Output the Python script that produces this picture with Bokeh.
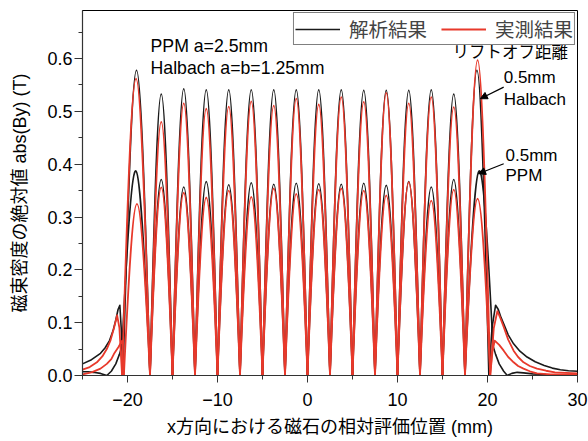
from bokeh.plotting import figure
from bokeh.models import (Range1d, Legend, LegendItem, Label, Arrow, NormalHead,
                          FixedTicker, ColumnDataSource)
from bokeh.embed import file_html
from bokeh.resources import INLINE

# ---------------- data ----------------
# zero crossings between the arches (mm)
inner_zeros = [-17.5, -15.0, -12.5, -10.0, -7.5, -5.0, -2.5, 0.0,
               2.5, 5.0, 7.5, 10.0, 12.5, 15.0, 17.5]

# peak values of the 16 arches (T)
halbach_calc = [0.578, 0.533, 0.543, 0.541, 0.541, 0.541, 0.541, 0.541,
                0.541, 0.541, 0.540, 0.540, 0.540, 0.541, 0.533, 0.578]
halbach_meas = [0.562, 0.480, 0.515, 0.505, 0.509, 0.519, 0.511, 0.524,
                0.513, 0.527, 0.518, 0.535, 0.515, 0.527, 0.508, 0.597]
ppm_calc = [0.387, 0.371, 0.357, 0.367, 0.361, 0.365, 0.362, 0.364,
            0.363, 0.362, 0.364, 0.360, 0.367, 0.357, 0.371, 0.387]
ppm_meas = [0.325, 0.356, 0.346, 0.337, 0.350, 0.338, 0.354, 0.344,
            0.352, 0.354, 0.350, 0.341, 0.366, 0.331, 0.352, 0.335]

# leakage tails outside the magnet array (x mm, y T)
hc_left_x = [-25.0, -24.0, -23.0, -22.5, -22.0, -21.6, -21.3, -21.05, -20.85, -20.7, -20.5]
hc_left_y = [0.022, 0.030, 0.042, 0.052, 0.066, 0.085, 0.105, 0.125, 0.133, 0.090, 0.0]
hc_right_x = [20.15, 20.5, 20.9, 21.2, 21.5, 21.8, 22.3, 22.9, 23.6, 24.4, 25.3,
              26.3, 27.2, 28.1, 29.0, 30.0]
hc_right_y = [0.0, 0.090, 0.133, 0.125, 0.110, 0.098, 0.077, 0.060, 0.046, 0.035,
              0.026, 0.019, 0.014, 0.011, 0.009, 0.008]

hm_left_x = [-25.0, -24.2, -23.4, -22.8, -22.3, -21.9, -21.5, -21.15, -20.9, -20.6]
hm_left_y = [0.011, 0.016, 0.025, 0.036, 0.050, 0.066, 0.090, 0.114, 0.090, 0.0]
hm_right_x = [20.3, 20.7, 21.1, 21.4, 21.8, 22.3, 22.9, 23.4, 24.0, 24.7, 25.5,
              26.5, 27.5, 30.0]
hm_right_y = [0.0, 0.090, 0.122, 0.110, 0.092, 0.068, 0.047, 0.035, 0.025, 0.018,
              0.013, 0.009, 0.006, 0.004]

pc_left_x = [-25.0, -24.4, -23.8, -23.0, -22.3, -21.8, -21.3, -20.9, -20.6]
pc_left_y = [0.007, 0.007, 0.006, 0.004, 0.0, 0.008, 0.022, 0.040, 0.057]
pc_right_x = [20.6, 20.9, 21.3, 21.8, 22.2, 22.7, 23.3, 24.0, 25.0, 26.5, 30.0]
pc_right_y = [0.057, 0.040, 0.022, 0.008, 0.0, 0.004, 0.006, 0.005, 0.003, 0.002, 0.001]

pm_left_x = [-25.0, -24.0, -23.0, -22.3, -21.8, -21.5, -21.0, -20.6, -20.4]
pm_left_y = [0.002, 0.006, 0.013, 0.022, 0.031, 0.041, 0.054, 0.066, 0.0]
pm_right_x = [20.3, 20.55, 20.8, 21.3, 21.8, 22.3, 22.9, 23.4, 24.0, 24.7, 25.5,
              27.0, 30.0]
pm_right_y = [0.0, 0.045, 0.066, 0.058, 0.047, 0.035, 0.025, 0.018, 0.013, 0.008,
              0.004, 0.002, 0.002]

x_ticks = [-20, -10, 0, 10, 20, 30]
y_ticks = [0.0, 0.1, 0.2, 0.3, 0.4, 0.5, 0.6]

BLACK = "#1a1a1a"
RED = "#e8392b"
JP = "Liberation Sans, Noto Sans CJK JP"
LAT = "Liberation Sans"

p = figure(width=588, height=441, output_backend="svg", toolbar_location=None,
           x_range=Range1d(-25, 30), y_range=Range1d(0, 0.691),
           min_border_left=82, min_border_right=11, min_border_top=10,
           min_border_bottom=66)
p.background_fill_color = "white"
p.border_fill_color = "white"
p.outline_line_color = "black"
p.outline_line_width = 1
p.xgrid.visible = False
p.ygrid.visible = False


def arches(peaks, left_x, left_y, right_x, right_y):
    xs = [left_x[-1]] + inner_zeros + [right_x[0]]
    ys = [left_y[-1]] + [0.0] * len(inner_zeros) + [right_y[0]]
    d = dict(x0=[], y0=[], x1=[], y1=[], cx0=[], cy0=[], cx1=[], cy1=[])
    for i, h in enumerate(peaks):
        x0, x1 = xs[i], xs[i + 1]
        y0, y1 = ys[i], ys[i + 1]
        L = x1 - x0
        cy = (8 * h - y0 - y1) / 6.0
        d["x0"].append(x0); d["y0"].append(y0)
        d["x1"].append(x1); d["y1"].append(y1)
        d["cx0"].append(x0 + 0.4244 * L); d["cy0"].append(cy)
        d["cx1"].append(x1 - 0.4244 * L); d["cy1"].append(cy)
    return ColumnDataSource(d)


def draw(peaks, lx, ly, rx, ry, color, width):
    src = arches(peaks, lx, ly, rx, ry)
    r = p.bezier(x0="x0", y0="y0", x1="x1", y1="y1", cx0="cx0", cy0="cy0",
                 cx1="cx1", cy1="cy1", source=src, line_color=color,
                 line_width=width)
    p.line(lx, ly, line_color=color, line_width=width, line_join="round")
    p.line(rx, ry, line_color=color, line_width=width, line_join="round")
    return r


r_calc = draw(halbach_calc, hc_left_x, hc_left_y, hc_right_x, hc_right_y, BLACK, 1.6)
draw(ppm_calc, pc_left_x, pc_left_y, pc_right_x, pc_right_y, BLACK, 1.6)
r_meas = draw(halbach_meas, hm_left_x, hm_left_y, hm_right_x, hm_right_y, RED, 1.8)
draw(ppm_meas, pm_left_x, pm_left_y, pm_right_x, pm_right_y, RED, 1.8)

# axes
p.xaxis.ticker = FixedTicker(ticks=x_ticks, minor_ticks=[-25, -15, -5, 5, 15, 25])
p.yaxis.ticker = FixedTicker(ticks=y_ticks,
                             minor_ticks=[0.05, 0.15, 0.25, 0.35, 0.45, 0.55, 0.65])
p.xaxis.major_label_overrides = {t: (str(t).replace("-", "\u2212")) for t in x_ticks}
p.yaxis.major_label_overrides = {t: "%.1f" % t for t in y_ticks}
for ax in (p.xaxis[0], p.yaxis[0]):
    ax.axis_line_color = "#333333"
    ax.axis_line_width = 1.2
    ax.major_tick_line_color = "#333333"
    ax.minor_tick_line_color = "#333333"
    ax.major_tick_in = 0
    ax.minor_tick_in = 0
    ax.major_label_text_font = LAT
    ax.major_label_text_font_size = "18px"
    ax.major_label_text_color = "black"
    ax.axis_label_text_font = JP
    ax.axis_label_text_font_size = "18px"
    ax.axis_label_text_font_style = "normal"
    ax.axis_label_text_color = "black"
p.xaxis.major_tick_out = 7
p.xaxis.minor_tick_out = 4
p.yaxis.major_tick_out = 8
p.yaxis.minor_tick_out = 4
p.xaxis.major_label_standoff = 10
p.yaxis.major_label_standoff = 2
p.xaxis.axis_label = "x方向における磁石の相対評価位置 (mm)"
p.yaxis.axis_label = "磁束密度の絶対値 abs(By) (T)"
p.xaxis.axis_label_standoff = 8
p.yaxis.axis_label_standoff = 14

# legend
legend = Legend(items=[LegendItem(label="解析結果", renderers=[r_calc]),
                       LegendItem(label="実測結果", renderers=[r_meas])],
                orientation="horizontal", location="top_right")
legend.label_text_font = JP
legend.label_text_font_size = "19.5px"
legend.glyph_width = 45
legend.glyph_height = 16
legend.label_height = 16
legend.label_standoff = 9
legend.spacing = 14
legend.padding = 1
legend.margin = 2
legend.border_line_color = "black"
legend.border_line_width = 1
legend.background_fill_alpha = 1
p.add_layout(legend)

# annotations
def lab(x, y, t, font=LAT, size="17.7px"):
    p.add_layout(Label(x=x, y=y, text=t, text_font=font, text_font_size=size,
                       text_baseline="middle", text_color="black"))

lab(-17.44, 0.623, "PPM a=2.5mm")
lab(-17.44, 0.583, "Halbach a=b=1.25mm")
lab(16.1, 0.612, "リフトオフ距離", font=JP, size="16.5px")
lab(21.8, 0.564, "0.5mm", size="17px")
lab(21.8, 0.523, "Halbach", size="17px")
lab(22.0, 0.417, "0.5mm", size="17px")
lab(22.0, 0.379, "PPM", size="17px")

p.add_layout(Arrow(x_start=21.8, y_start=0.546, x_end=19.2, y_end=0.524,
                   line_color="black", line_width=1.2,
                   end=NormalHead(size=7, fill_color="black", line_color="black")))
p.add_layout(Arrow(x_start=21.8, y_start=0.401, x_end=19.0, y_end=0.382,
                   line_color="black", line_width=1.2,
                   end=NormalHead(size=7, fill_color="black", line_color="black")))

open("out.html", "w").write(file_html(p, INLINE))
